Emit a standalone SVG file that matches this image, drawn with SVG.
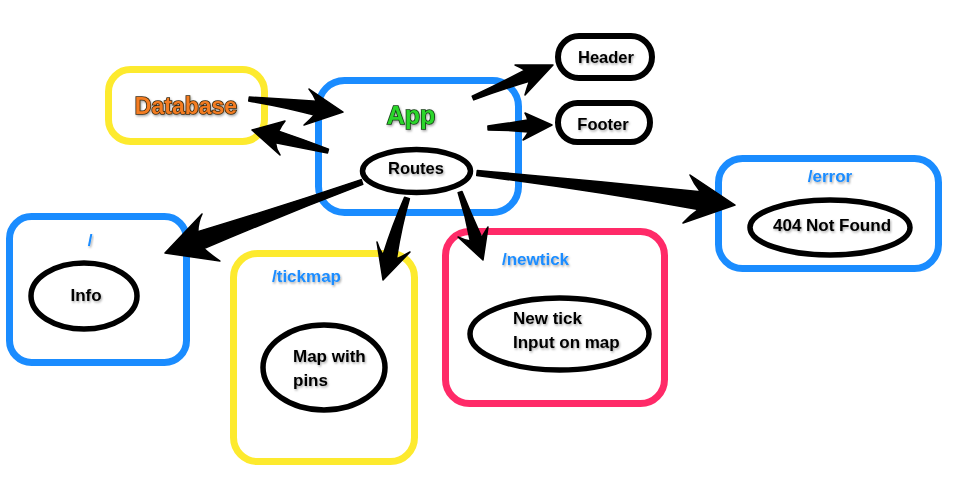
<svg xmlns="http://www.w3.org/2000/svg" width="963" height="504" viewBox="0 0 963 504">
<defs>
<filter id="sh" x="-20%" y="-40%" width="140%" height="180%">
<feDropShadow dx="1" dy="1.5" stdDeviation="0.8" flood-color="#000" flood-opacity="0.35"/>
</filter>
<style>
.box{fill:none;stroke-width:7}
.blue{stroke:#1A8CFF}
.yellow{stroke:#FDEA2E}
.pink{stroke:#FF2A68}
.pill{fill:#fff;stroke:#000;stroke-width:6}
.ell{fill:#fff;stroke:#000;stroke-width:5.5}
text{font-family:"Liberation Sans",Arial,Helvetica,sans-serif;font-weight:bold}
.lbl{font-size:17px;fill:#000;filter:url(#sh)}
.route{font-size:17px;fill:#1A8CFF;filter:url(#sh)}
.arrow{fill:#000;stroke:#000;stroke-width:1.5;stroke-linejoin:round}
</style>
</defs>
<rect width="963" height="504" fill="#fff"/>

<g id="database">
<rect class="box yellow" x="108.5" y="69.5" width="156" height="72" rx="22"/>
<text x="186" y="114" text-anchor="middle" font-size="23" fill="#F47C20" stroke="#3a2a10" stroke-width="1.6" paint-order="stroke" filter="url(#sh)">Database</text>
</g>

<g id="app">
<rect class="box blue" x="318.5" y="80.5" width="200" height="132" rx="26"/>
<text x="411" y="124" text-anchor="middle" font-size="25" fill="#2BD62B" stroke="#153a15" stroke-width="1.6" paint-order="stroke" filter="url(#sh)">App</text>
</g>

<g id="routes">
<ellipse class="ell" cx="416.5" cy="171" rx="54" ry="21.5"/>
<text class="lbl" x="416" y="174" text-anchor="middle" style="font-size:16.5px">Routes</text>
</g>

<g id="header">
<rect class="pill" x="558" y="36" width="94" height="42" rx="21"/>
<text class="lbl" x="606" y="63" text-anchor="middle" style="font-size:16.5px">Header</text>
</g>

<g id="footer">
<rect class="pill" x="558" y="103" width="92" height="39" rx="19.5"/>
<text class="lbl" x="603" y="130" text-anchor="middle" style="font-size:16.5px">Footer</text>
</g>

<g id="root">
<rect class="box blue" x="9.5" y="216.5" width="177" height="146" rx="22"/>
<text class="route" x="90" y="246" text-anchor="middle">/</text>
<ellipse class="ell" cx="84" cy="296" rx="53" ry="33"/>
<text class="lbl" x="86" y="301" text-anchor="middle">Info</text>
</g>

<g id="tickmap">
<rect class="box yellow" x="233.5" y="253.5" width="181" height="208" rx="24"/>
<text class="route" x="272" y="282">/tickmap</text>
<ellipse class="ell" cx="324" cy="367.5" rx="61" ry="42.5"/>
<text class="lbl" x="293" y="362">Map with</text>
<text class="lbl" x="293" y="386">pins</text>
</g>

<g id="newtick">
<rect class="box pink" x="445.5" y="231.5" width="219" height="172" rx="24"/>
<text class="route" x="502" y="265">/newtick</text>
<ellipse class="ell" cx="559.5" cy="334" rx="89.5" ry="36"/>
<text class="lbl" x="513" y="324">New tick</text>
<text class="lbl" x="513" y="348">Input on map</text>
</g>

<g id="error">
<rect class="box blue" x="718.5" y="158.5" width="220" height="110" rx="24"/>
<text class="route" x="830" y="182" text-anchor="middle">/error</text>
<ellipse class="ell" cx="830" cy="227.5" rx="80" ry="27.5"/>
<text class="lbl" x="832" y="231" text-anchor="middle">404 Not Found</text>
</g>

<g id="connectors">
<path class="arrow" d="M249.3,97 Q285,99 316.3,101.3 Q314,95 309,89 L343,112 L304,125 Q310,120 314.3,115.1 Q285,107 248.7,101 Z"/>
<path class="arrow" d="M328.5,149.1 Q305,140 278.7,131.1 Q281,126 285,121 L252,130 L280,155 Q276,149 275.5,142.7 Q302,148 327.5,152.9 Z"/>
<path class="arrow" d="M472.2,96.2 Q500,83 524.8,70.2 Q520,67 515,65 L553,65 L525,95 Q527,88 529.4,81.3 Q500,90 473.8,99.9 Z"/>
<path class="arrow" d="M487.9,126 Q510,123 527.7,120.1 Q527,116 525,113 L552,125 L523,140 Q526,136 528.3,132.1 Q510,130 488.1,130 Z"/>
<path class="arrow" d="M361.2,179.6 Q280,207 197.8,231.6 Q198,222 202,214 L165,253 L220,261 Q211,255 203.9,248.6 Q285,214 362.8,184.4 Z"/>
<path class="arrow" d="M404.6,197.3 Q392,226 383,255 Q379,249 377,242 L383,280 L410,252 Q403,256 396.4,259 Q401,228 409.4,198.7 Z"/>
<path class="arrow" d="M458.1,192.6 Q466,217 470.3,241.1 Q464,240 458,237 L483,260 L488,227 Q485,232 481.7,237.3 Q471,214 461.9,191.4 Z"/>
<path class="arrow" d="M477.3,170.5 Q590,180 700.4,191.7 Q694,184 690,175 L735,205 L683,223 Q690,215 698.2,209.5 Q590,190 476.7,175.5 Z"/>
</g>
</svg>
